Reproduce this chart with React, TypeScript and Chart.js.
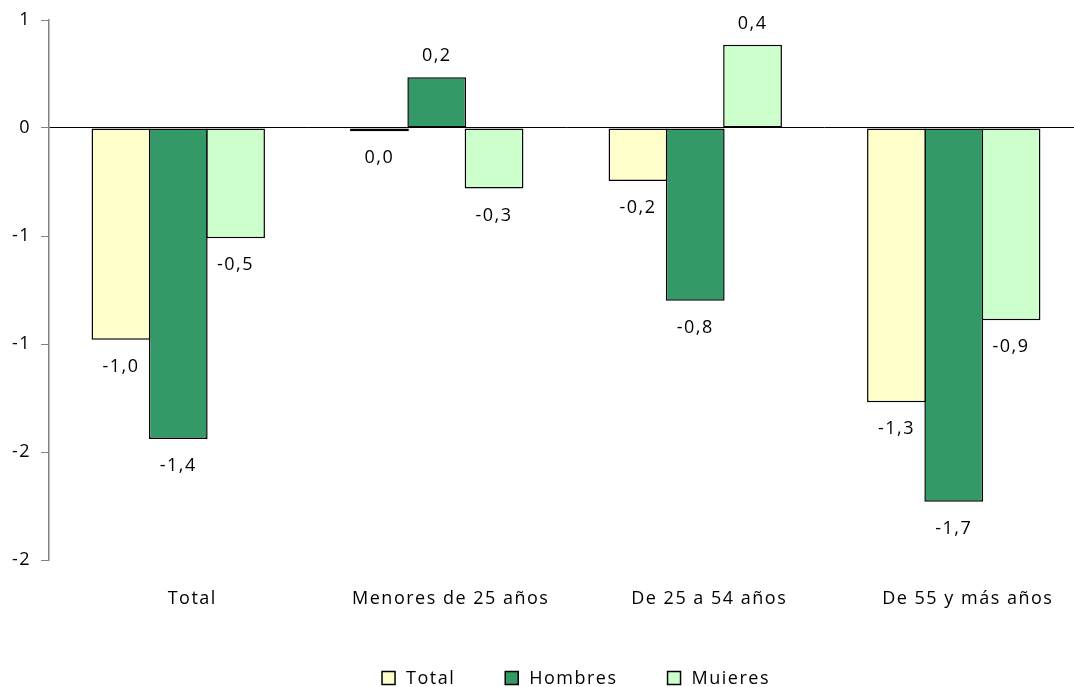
import React, { useEffect, useRef } from 'react';
import { Chart, registerables } from 'chart.js';

Chart.register(...registerables);

const categories = ['Total', 'Menores de 25 años', 'De 25 a 54 años', 'De 55 y más años'];
const seriesNames = ['Total', 'Hombres', 'Muieres'];
const totalValues = [-0.98, -0.015, -0.245, -1.27];
const hombresValues = [-1.44, 0.235, -0.8, -1.73];
const mujeresValues = [-0.51, -0.28, 0.385, -0.89];
const seriesColors = ['#FFFFCC', '#339966', '#CCFFCC'];
const yMin = -2;
const yMax = 0.5;
const yStep = 0.5;

const FONT_FAMILY = '"Open Sans", "Liberation Sans", sans-serif';
const FONT_SIZE = 18;
const LETTER_SPACING = '1.5px';

const fmtValue = (v: number) => {
  let r = Math.round(v * 10) / 10;
  if (r === 0) r = 0;
  return r.toFixed(1).replace('.', ',');
};

const fmtTick = (v: number) => {
  const r = Math.sign(v) * Math.round(Math.abs(v));
  return r === 0 ? '0' : String(r);
};

const spacingPlugin = {
  id: 'spacing',
  beforeDraw(chart: any) {
    chart.ctx.letterSpacing = LETTER_SPACING;
  },
};

const valueLabelPlugin = {
  id: 'valueLabels',
  afterDatasetsDraw(chart: any) {
    const ctx = chart.ctx;
    ctx.save();
    ctx.letterSpacing = LETTER_SPACING;
    ctx.font = `${FONT_SIZE}px ${FONT_FAMILY}`;
    ctx.fillStyle = '#000';
    ctx.textAlign = 'center';
    ctx.textBaseline = 'middle';
    chart.data.datasets.forEach((ds: any, di: number) => {
      const meta = chart.getDatasetMeta(di);
      meta.data.forEach((bar: any, i: number) => {
        const v = ds.data[i];
        const y = v >= 0 ? bar.y - 21 : bar.y + 27;
        ctx.fillText(fmtValue(v), bar.x, y);
      });
    });
    ctx.restore();
  },
};

const legendPlugin = {
  id: 'customLegend',
  afterDraw(chart: any) {
    const ctx = chart.ctx;
    ctx.save();
    ctx.letterSpacing = LETTER_SPACING;
    ctx.font = `${FONT_SIZE}px ${FONT_FAMILY}`;
    const box = 13;
    const gapText = 11;
    const gapItem = 50;
    const items = chart.data.datasets.map((ds: any) => ({
      label: ds.label,
      color: ds.backgroundColor,
      w: ctx.measureText(ds.label).width,
    }));
    const total = items.reduce((s: number, it: any) => s + box + gapText + it.w, 0) + gapItem * (items.length - 1);
    const ca = chart.chartArea;
    let x = (ca.left + ca.right) / 2 + 10 - total / 2;
    const cy = 678;
    items.forEach((it: any) => {
      ctx.fillStyle = it.color;
      ctx.fillRect(x, cy - box / 2, box, box);
      ctx.strokeStyle = '#000';
      ctx.lineWidth = 1.5;
      ctx.strokeRect(x, cy - box / 2, box, box);
      ctx.fillStyle = '#000';
      ctx.textAlign = 'left';
      ctx.textBaseline = 'middle';
      ctx.fillText(it.label, x + box + gapText, cy + 1);
      x += box + gapText + it.w + gapItem;
    });
    ctx.restore();
  },
};

export default function App() {
  const ref = useRef<HTMLCanvasElement>(null);

  useEffect(() => {
    if (!ref.current) return;
    const seriesValues = [totalValues, hombresValues, mujeresValues];
    const chart = new Chart(ref.current, {
      type: 'bar',
      data: {
        labels: categories,
        datasets: seriesNames.map((name, i) => ({
          label: name,
          data: seriesValues[i],
          backgroundColor: seriesColors[i],
          borderColor: '#000',
          borderWidth: 1.5,
          borderSkipped: false,
          categoryPercentage: 0.665,
          barPercentage: 1.026,
        })),
      },
      options: {
        responsive: false,
        animation: false,
        devicePixelRatio: 1,
        layout: { padding: { top: 20, left: 0, right: 17, bottom: 67 } },
        plugins: {
          legend: { display: false },
          tooltip: { enabled: false },
        },
        font: { family: FONT_FAMILY, size: FONT_SIZE },
        scales: {
          x: {
            grid: { display: false, drawTicks: false },
            border: { display: false },
            ticks: {
              color: '#000',
              font: { family: FONT_FAMILY, size: FONT_SIZE },
              padding: 28,
              labelOffset: 14,
              maxRotation: 0,
              autoSkip: false,
            },
            afterFit: (scale: any) => {
              scale.height = 60;
              scale.paddingLeft = 0;
              scale.paddingRight = 0;
            },
          },
          y: {
            min: yMin,
            max: yMax,
            border: { display: true, color: '#808080', width: 1.5 },
            grid: {
              color: (c: any) => (c.tick && c.tick.value === 0 ? '#000' : 'rgba(0,0,0,0)'),
              tickColor: '#808080',
              tickLength: 8,
              lineWidth: 1,
            },
            ticks: {
              stepSize: yStep,
              color: '#000',
              font: { family: FONT_FAMILY, size: FONT_SIZE },
              padding: 10,
              callback: (v: any) => fmtTick(Number(v)),
            },
            afterFit: (scale: any) => {
              scale.width = 49;
              scale.paddingTop = 0;
              scale.paddingBottom = 0;
            },
          },
        },
      },
      plugins: [spacingPlugin, valueLabelPlugin, legendPlugin],
    });
    return () => chart.destroy();
  }, []);

  return (
    <div
      style={{
        position: 'absolute',
        left: 0,
        top: 0,
        width: 1074,
        height: 687,
        overflow: 'hidden',
        background: '#fff',
      }}
    >
      <canvas ref={ref} width={1100} height={687} style={{ width: 1100, height: 687, display: 'block' }} />
    </div>
  );
}
